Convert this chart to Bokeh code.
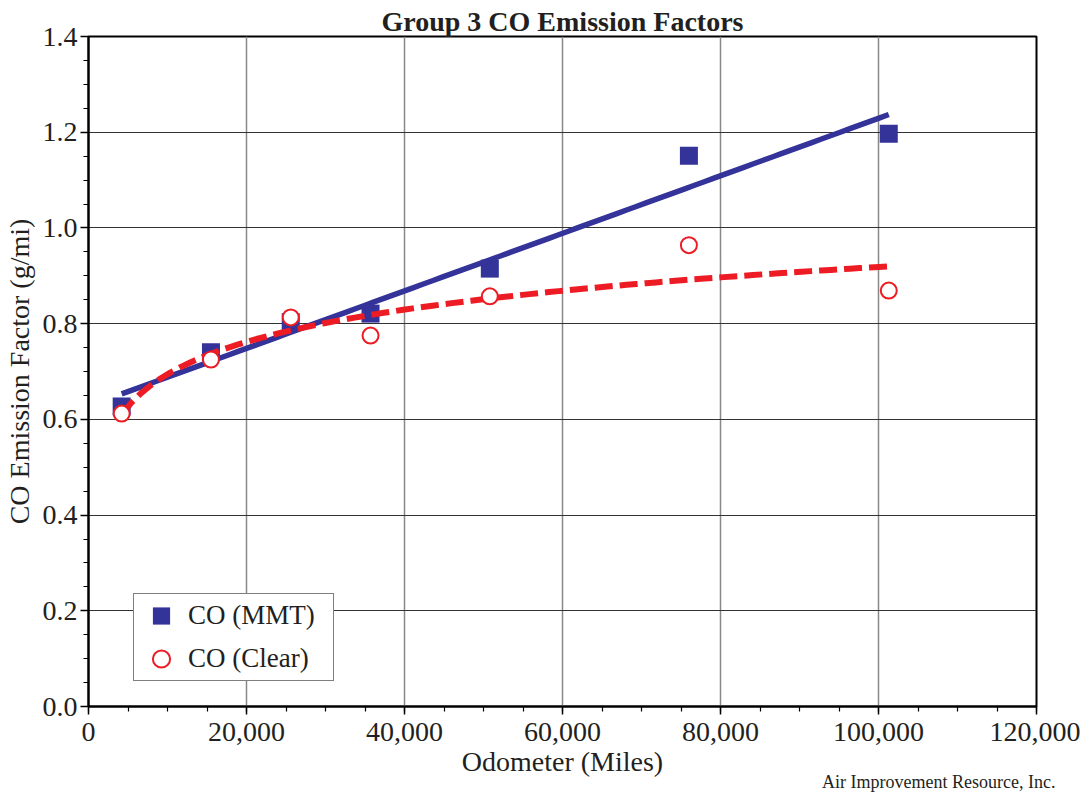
import numpy as np
from bokeh.plotting import figure
from bokeh.models import (NumeralTickFormatter, FixedTicker, Legend, LegendItem,
                          Title, Range1d)
from bokeh.embed import file_html
from bokeh.resources import INLINE

# ---- data ----
odometer = [4200, 15500, 25600, 35700, 50800, 76000, 101300]
co_mmt = [0.627, 0.740, 0.803, 0.821, 0.915, 1.151, 1.197]
co_clear = [0.612, 0.725, 0.813, 0.775, 0.857, 0.964, 0.869]
x_ticks = [0, 20000, 40000, 60000, 80000, 100000, 120000]
y_ticks = [0.0, 0.2, 0.4, 0.6, 0.8, 1.0, 1.2, 1.4]
series_names = ["CO (MMT)", "CO (Clear)"]
title_text = "Group 3 CO Emission Factors"
x_label = "Odometer (Miles)"
y_label = "CO Emission Factor (g/mi)"
credit = "Air Improvement Resource, Inc."

FONT = "Liberation Serif"
TXT = "#231f20"
BLUE = "#333399"
RED = "#ed1c24"

p = figure(width=1080, height=792, output_backend="svg", toolbar_location=None,
           x_range=Range1d(0, 120000), y_range=Range1d(0, 1.4),
           min_border_left=88, min_border_right=44, min_border_top=36,
           min_border_bottom=86)

p.title.text = title_text
p.title.align = "center"
p.title.text_font = FONT
p.title.text_font_size = "28px"
p.title.text_font_style = "bold"
p.title.text_color = TXT
p.title.standoff = 0
p.title.offset = 0

# trend lines computed from the data
xs = np.linspace(min(odometer), max(odometer), 80)
lin = np.polyfit(odometer, co_mmt, 1)
logfit = np.polyfit(np.log(odometer), co_clear, 1)

r_sq = p.scatter(odometer, co_mmt, marker="square", size=18, fill_color=BLUE,
                 line_color=BLUE, line_width=0)
p.line(xs, np.polyval(lin, xs), line_color=BLUE, line_width=5.5)
p.line(xs, np.polyval(logfit, np.log(xs)), line_color=RED, line_width=6,
       line_dash="18 7")
r_ci = p.scatter(odometer, co_clear, marker="circle", size=16, fill_color="white",
                 line_color=RED, line_width=2)

legend = Legend(items=[LegendItem(label=series_names[0], renderers=[r_sq]),
                       LegendItem(label=series_names[1], renderers=[r_ci])],
                location=(45, 25), glyph_width=54, glyph_height=43,
                label_standoff=0, padding=0, spacing=0, margin=0, label_width=145,
                label_text_font=FONT, label_text_font_size="27px",
                label_text_color=TXT, border_line_color="black",
                border_line_width=1.5, background_fill_alpha=1.0)
p.add_layout(legend)

# axes
p.xaxis.ticker = FixedTicker(ticks=x_ticks, minor_ticks=list(range(0, 120001, 5000)))
p.yaxis.ticker = FixedTicker(ticks=y_ticks,
                             minor_ticks=[round(v * 0.05, 2) for v in range(0, 29)])
p.xaxis.formatter = NumeralTickFormatter(format="0,0")
p.yaxis.formatter = NumeralTickFormatter(format="0.0")
p.xaxis.axis_label = x_label
p.yaxis.axis_label = y_label
for ax in (p.xaxis, p.yaxis):
    ax.axis_label_text_font = FONT
    ax.axis_label_text_font_size = "28px"
    ax.axis_label_text_font_style = "normal"
    ax.axis_label_text_color = TXT
    ax.major_label_text_font = FONT
    ax.major_label_text_font_size = "28px"
    ax.major_label_text_color = TXT
    ax.axis_line_color = "black"
    ax.axis_line_width = 2
    ax.major_tick_line_color = "black"
    ax.major_tick_line_width = 1.5
    ax.minor_tick_line_color = "black"
    ax.minor_tick_line_width = 1.2
    ax.major_tick_in = 0
    ax.major_tick_out = 8
    ax.minor_tick_in = 0
    ax.minor_tick_out = 5
p.xaxis.major_label_standoff = 8
p.yaxis.major_label_standoff = 3
p.xaxis.axis_label_standoff = 2
p.yaxis.axis_label_standoff = 5

p.xgrid.grid_line_color = "#888888"
p.xgrid.grid_line_width = 1.5
p.ygrid.grid_line_color = "#333333"
p.ygrid.grid_line_width = 1

p.outline_line_color = "black"
p.outline_line_width = 2
p.background_fill_color = "white"
p.border_fill_color = "white"

p.add_layout(Title(text=credit, align="right", offset=-19, standoff=-24,
                   text_font=FONT, text_font_size="18px", text_color=TXT,
                   text_font_style="normal"), "below")

open("out.html", "w").write(file_html(p, INLINE))
